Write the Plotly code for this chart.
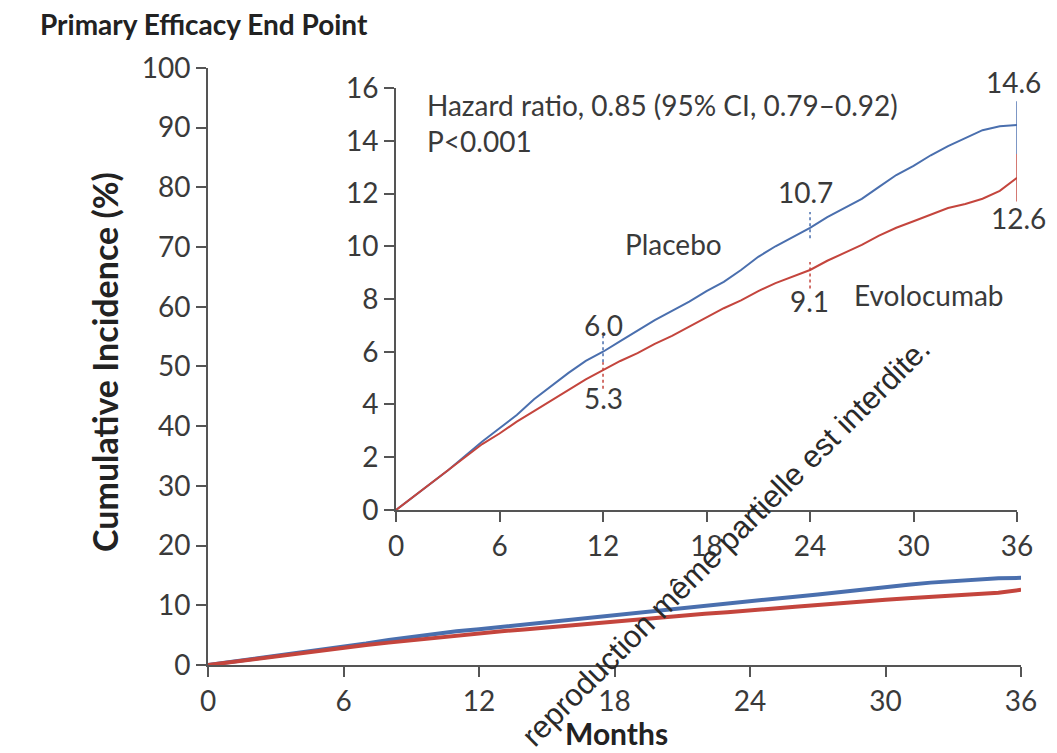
import plotly.graph_objects as go

# ---- data ----
months = list(range(0, 37))
placebo = [0, 0.5, 1.0, 1.5, 2.05, 2.6, 3.1, 3.6, 4.2, 4.7, 5.2, 5.65, 6.0,
           6.4, 6.8, 7.2, 7.55, 7.9, 8.3, 8.65, 9.1, 9.6, 10.0, 10.35, 10.7,
           11.1, 11.45, 11.8, 12.25, 12.7, 13.05, 13.45, 13.8, 14.1, 14.4, 14.55, 14.6]
evolocumab = [0, 0.5, 1.0, 1.5, 2.0, 2.5, 2.9, 3.35, 3.75, 4.15, 4.55, 4.95, 5.3,
              5.65, 5.95, 6.3, 6.6, 6.95, 7.3, 7.65, 7.95, 8.3, 8.6, 8.85, 9.1,
              9.45, 9.75, 10.05, 10.4, 10.7, 10.95, 11.2, 11.45, 11.6, 11.8, 12.1, 12.6]
mark_months = [12, 24, 36]
mark_placebo = [6.0, 10.7, 14.6]
mark_evolo = [5.3, 9.1, 12.6]
x_ticks = [0, 6, 12, 18, 24, 30, 36]
main_y_ticks = list(range(0, 101, 10))
inset_y_ticks = list(range(0, 17, 2))

BLUE = "#4a6fae"
RED = "#c4453d"
AX = "#555555"
TXT = "#3a3a3a"
FONT = "Lato"

fig = go.Figure()

# main plot curves
fig.add_trace(go.Scatter(x=months, y=placebo, mode="lines", line=dict(color=BLUE, width=4),
                         xaxis="x", yaxis="y", showlegend=False))
fig.add_trace(go.Scatter(x=months, y=evolocumab, mode="lines", line=dict(color=RED, width=4),
                         xaxis="x", yaxis="y", showlegend=False))

# inset curves
fig.add_trace(go.Scatter(x=months, y=placebo, mode="lines", line=dict(color=BLUE, width=2),
                         xaxis="x2", yaxis="y2", showlegend=False))
fig.add_trace(go.Scatter(x=months, y=evolocumab, mode="lines", line=dict(color=RED, width=2),
                         xaxis="x2", yaxis="y2", showlegend=False))

# vertical marks at 12, 24, 36 months
for i, m in enumerate(mark_months):
    last = (m == mark_months[-1])
    b_lo, b_hi = (1.1, 0.9) if last else (0.4, 0.6)
    r_lo, r_hi = (0.9, 0.9) if last else (0.7, 0.3)
    fig.add_trace(go.Scatter(x=[m, m], y=[mark_placebo[i] - b_lo, mark_placebo[i] + b_hi], mode="lines",
                             line=dict(color=BLUE, width=1.5, dash="solid" if last else "dot"),
                             xaxis="x2", yaxis="y2", showlegend=False))
    fig.add_trace(go.Scatter(x=[m, m], y=[mark_evolo[i] - r_lo, mark_evolo[i] + r_hi], mode="lines",
                             line=dict(color=RED, width=1.5, dash="solid" if last else "dot"),
                             xaxis="x2", yaxis="y2", showlegend=False))

axis_common = dict(showgrid=False, zeroline=False, showline=True, linecolor=AX, linewidth=2,
                   ticks="outside", ticklen=10, tickwidth=2, tickcolor=AX, automargin=False,
                   tickfont=dict(family=FONT, size=28, color=TXT))

# page body has an 8px margin, so the figure is 1049x745
fig.update_layout(
    width=1049, height=745,
    margin=dict(l=0, r=0, t=0, b=0, autoexpand=False),
    paper_bgcolor="white", plot_bgcolor="rgba(0,0,0,0)",
    xaxis=dict(domain=[0.1907, 0.9657], range=[0, 36], tickvals=x_ticks, anchor="y", **axis_common),
    yaxis=dict(domain=[0.1181, 0.9195], range=[0, 100], tickvals=main_y_ticks, anchor="x", **axis_common),
    xaxis2=dict(domain=[0.3699, 0.9619], range=[0, 36], tickvals=x_ticks, anchor="y2", **axis_common),
    yaxis2=dict(domain=[0.3262, 0.8926], range=[0, 16], tickvals=inset_y_ticks, anchor="x2", **axis_common),
)

ann = []
def lab(x, y, t, xs=0, ys=0, xa="center", size=28):
    ann.append(dict(x=x, y=y, xref="x2", yref="y2", text=t, showarrow=False, xshift=xs, yshift=ys,
                    xanchor=xa, font=dict(family=FONT, size=size, color=TXT)))

lab(mark_months[0], mark_placebo[0], "6.0", 0, 27)
lab(mark_months[0], mark_evolo[0], "5.3", 0, -28)
lab(mark_months[1], mark_placebo[1], "10.7", -5, 36)
lab(mark_months[1], mark_evolo[1], "9.1", -1, -31)
lab(mark_months[2], mark_placebo[2], "14.6", -4, 43)
lab(mark_months[2], mark_evolo[2], "12.6", 1, -40)
lab(16.1, 10.1, "Placebo")
lab(30.9, 8.15, "Evolocumab")

ann.append(dict(x=0.3975, y=0.8950, xref="paper", yref="paper", xanchor="left", yanchor="top", align="left",
                text="Hazard ratio, 0.85 (95% CI, 0.79–0.92)<br>P<0.001", showarrow=False,
                font=dict(family=FONT, size=28, color=TXT)))

ann.append(dict(x=0.0286, y=0.9785, xref="paper", yref="paper", xanchor="left", yanchor="middle",
                text="<b>Primary Efficacy End Point</b>", showarrow=False,
                font=dict(family=FONT, size=28, color="#222")))
ann.append(dict(x=0.0915, y=0.5248, xref="paper", yref="paper", xanchor="center", yanchor="middle",
                text="<b>Cumulative Incidence (%)</b>", showarrow=False, textangle=-90,
                font=dict(family=FONT, size=34, color="#222")))
ann.append(dict(x=0.5805, y=0.0, xref="paper", yref="paper", xanchor="center", yanchor="bottom",
                text="<b>Months</b>", showarrow=False,
                font=dict(family=FONT, size=30, color="#222")))
ann.append(dict(x=0.6840, y=0.2830, xref="paper", yref="paper", xanchor="center", yanchor="middle",
                text="reproduction même partielle est interdite.", showarrow=False, textangle=-45,
                font=dict(family="Liberation Sans", size=31, color="#2a2a2a")))
fig.update_layout(annotations=ann)

fig.write_html("out.html")
